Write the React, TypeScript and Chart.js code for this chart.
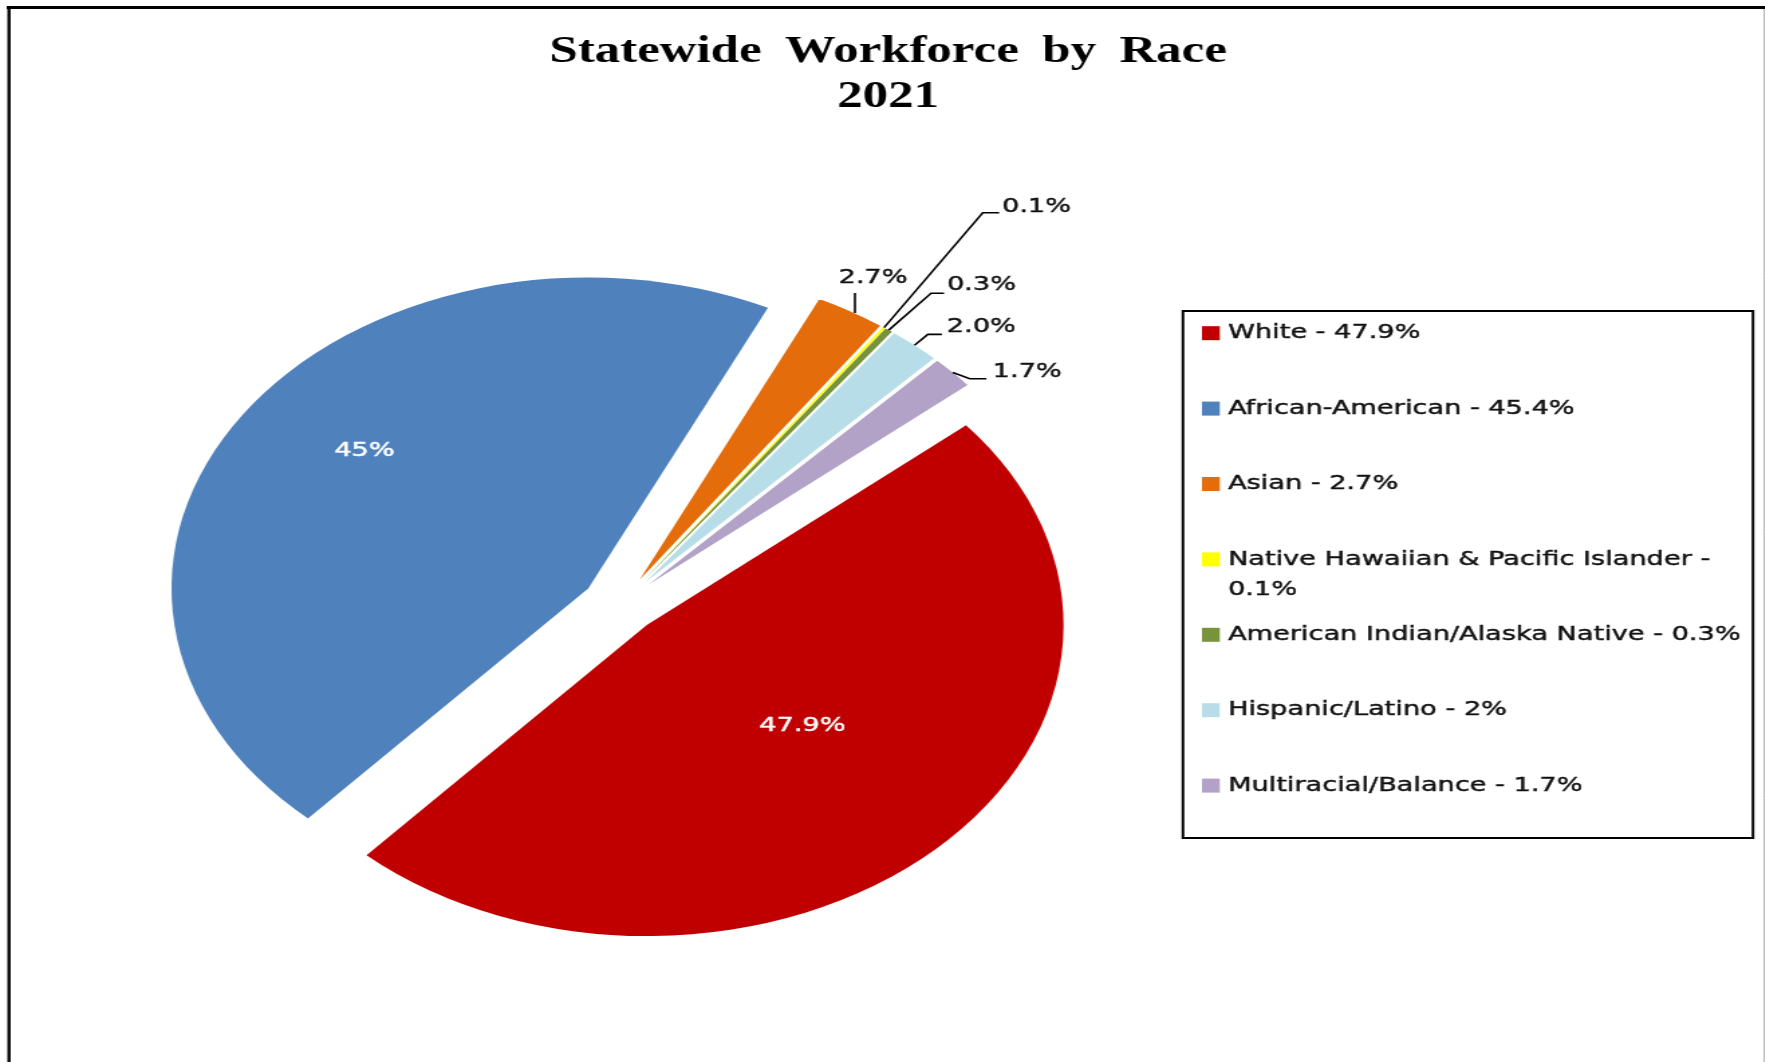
import React, { useEffect, useRef } from 'react';
import { Chart, registerables } from 'chart.js';

Chart.register(...registerables);

// ---------------- data ----------------
const categories = [
  'White',
  'African-American',
  'Asian',
  'Native Hawaiian & Pacific Islander',
  'American Indian/Alaska Native',
  'Hispanic/Latino',
  'Multiracial/Balance',
];
const values = [47.9, 45.4, 2.7, 0.1, 0.3, 2.0, 1.7];
const pieLabels = ['47.9%', '45%', '2.7%', '0.1%', '0.3%', '2.0%', '1.7%'];
const colors = ['#C00000', '#4F81BD', '#E46C0A', '#FFFF00', '#77933C', '#B7DEE8', '#B3A2C7'];
const titleLines = ['Statewide Workforce by Race', '2021'];

// ---------------- layout / style ----------------
const STRETCH = 1.34;
const CANVAS_W = 1318;
const CANVAS_H = 1062;
const EXPLODE = 28.7;
const RADIUS = 311;
const FONT = '"DejaVu Sans", Verdana, sans-serif';
const FONT_SIZE = 20.3;

// inside labels: angle shift (deg), radius fraction
const insideSpec: Record<number, [number, number]> = {
  0: [-5.1, 0.495],
  1: [5.5, 0.695],
};
// outside labels: leader points relative to outer mid point, text anchor, alignment
const outsideSpec: Record<number, { pts: number[][]; text: number[]; align: CanvasTextAlign }> = {
  2: { pts: [[3.3, 1.5], [3.3, -18.5]], text: [16.8, -33.5], align: 'center' },
  3: { pts: [[0, 0], [73.6, -114.8], [85.9, -114.8]], text: [88, -121], align: 'left' },
  4: { pts: [[0, 0], [31.6, -36.9], [41.3, -36.9]], text: [43.5, -45], align: 'left' },
  5: { pts: [[0, 0], [9.9, -10.9], [20.4, -10.9]], text: [24.1, -18.7], align: 'left' },
  6: { pts: [[0, 0], [12.7, 6.3], [25.1, 6.3]], text: [29.8, -1.2], align: 'left' },
};

const explodePlugin = {
  id: 'explodePie',
  beforeDatasetDraw(chart: any, args: any) {
    const ctx = chart.ctx;
    args.meta.data.forEach((arc: any) => {
      const mid = (arc.startAngle + arc.endAngle) / 2;
      ctx.save();
      ctx.translate(Math.cos(mid) * EXPLODE, Math.sin(mid) * EXPLODE);
      arc.draw(ctx);
      ctx.restore();
    });
    return false;
  },
};

function wrapText(ctx: CanvasRenderingContext2D, text: string, maxW: number): string[] {
  const words = text.split(' ');
  const lines: string[] = [];
  let cur = '';
  for (const w of words) {
    const test = cur ? cur + ' ' + w : w;
    if (ctx.measureText(test).width > maxW && cur) {
      lines.push(cur);
      cur = w;
    } else {
      cur = test;
    }
  }
  if (cur) lines.push(cur);
  return lines;
}

function heavyText(ctx: CanvasRenderingContext2D, text: string, x: number, y: number, color: string) {
  ctx.fillStyle = color;
  ctx.strokeStyle = color;
  ctx.lineWidth = 0.45;
  ctx.fillText(text, x, y);
  ctx.strokeText(text, x, y);
}

const decorPlugin = {
  id: 'decor',
  afterDraw(chart: any) {
    const ctx: CanvasRenderingContext2D = chart.ctx;
    ctx.save();

    // frame
    ctx.strokeStyle = '#000';
    ctx.lineWidth = 3;
    ctx.beginPath();
    ctx.moveTo(5, 7.5);
    ctx.lineTo(CANVAS_W, 7.5);
    ctx.stroke();
    ctx.lineWidth = 2.4;
    ctx.beginPath();
    ctx.moveTo(6.7, 6);
    ctx.lineTo(6.7, CANVAS_H);
    ctx.stroke();
    ctx.strokeStyle = '#9a9a9a';
    ctx.lineWidth = 0.8;
    ctx.beginPath();
    ctx.moveTo(1316.5, 9);
    ctx.lineTo(1316.5, CANVAS_H);
    ctx.stroke();

    // title
    ctx.fillStyle = '#000';
    ctx.font = 'bold 38px "Liberation Serif", "Times New Roman", serif';
    ctx.textAlign = 'center';
    ctx.textBaseline = 'alphabetic';
    (ctx as any).wordSpacing = '8px';
    ctx.fillText(titleLines[0], 662.8, 61.5);
    ctx.fillText(titleLines[1], 662.8, 106.5);
    (ctx as any).wordSpacing = '0px';

    // data labels
    const meta = chart.getDatasetMeta(0);
    ctx.font = `${FONT_SIZE}px ${FONT}`;
    ctx.textBaseline = 'middle';
    meta.data.forEach((arc: any, i: number) => {
      const mid = (arc.startAngle + arc.endAngle) / 2;
      const cx = arc.x + Math.cos(mid) * EXPLODE;
      const cy = arc.y + Math.sin(mid) * EXPLODE;
      const r = arc.outerRadius;
      if (insideSpec[i]) {
        const [shift, frac] = insideSpec[i];
        const a = mid + (shift * Math.PI) / 180;
        ctx.textAlign = 'center';
        heavyText(ctx, pieLabels[i], cx + Math.cos(a) * r * frac, cy + Math.sin(a) * r * frac, '#ffffff');
      } else if (outsideSpec[i]) {
        const spec = outsideSpec[i];
        const ox = cx + Math.cos(mid) * r;
        const oy = cy + Math.sin(mid) * r;
        ctx.strokeStyle = '#000';
        ctx.lineWidth = 1.6;
        ctx.beginPath();
        spec.pts.forEach((p, k) => {
          if (k === 0) ctx.moveTo(ox + p[0], oy + p[1]);
          else ctx.lineTo(ox + p[0], oy + p[1]);
        });
        ctx.stroke();
        ctx.textAlign = spec.align;
        heavyText(ctx, pieLabels[i], ox + spec.text[0], oy + spec.text[1], '#111');
      }
    });

    // legend
    const bx = 882.8, by = 311, bw = 425.4, bh = 527;
    ctx.strokeStyle = '#000';
    ctx.lineWidth = 2;
    ctx.strokeRect(bx, by, bw, bh);
    ctx.font = `${FONT_SIZE}px ${FONT}`;
    ctx.textAlign = 'left';
    ctx.textBaseline = 'middle';
    const textX = 916.4;
    const maxW = 1302 - textX;
    categories.forEach((cat, i) => {
      const yc = 333.2 + i * 75.4;
      ctx.fillStyle = colors[i];
      ctx.fillRect(897, yc - 7, 13.3, 14);
      const lines = wrapText(ctx, `${cat} - ${values[i]}%`, maxW);
      lines.forEach((ln, k) => heavyText(ctx, ln, textX, yc + k * 30.4, '#111'));
    });

    ctx.restore();
  },
};

export default function App() {
  const ref = useRef<HTMLCanvasElement>(null);

  useEffect(() => {
    if (!ref.current) return;
    const chart = new Chart(ref.current, {
      type: 'pie',
      data: {
        labels: categories,
        datasets: [
          {
            data: values,
            backgroundColor: colors,
            borderWidth: 0,
            radius: RADIUS,
          } as any,
        ],
      },
      options: {
        responsive: false,
        animation: false,
        devicePixelRatio: 1,
        events: [],
        rotation: 50,
        layout: { padding: { left: 20, right: 412.4, top: 150, bottom: 3.2 } },
        plugins: {
          legend: { display: false },
          title: { display: false },
          tooltip: { enabled: false },
        },
      } as any,
      plugins: [explodePlugin, decorPlugin],
    });
    return () => chart.destroy();
  }, []);

  return (
    <div
      style={{
        position: 'absolute',
        left: 0,
        top: 0,
        width: 1765,
        height: 1062,
        overflow: 'hidden',
        background: '#fff',
      }}
    >
      <div
        style={{
          width: CANVAS_W,
          height: CANVAS_H,
          transform: `scaleX(${STRETCH})`,
          transformOrigin: '0 0',
        }}
      >
        <canvas ref={ref} width={CANVAS_W} height={CANVAS_H} style={{ display: 'block' }} />
      </div>
    </div>
  );
}
